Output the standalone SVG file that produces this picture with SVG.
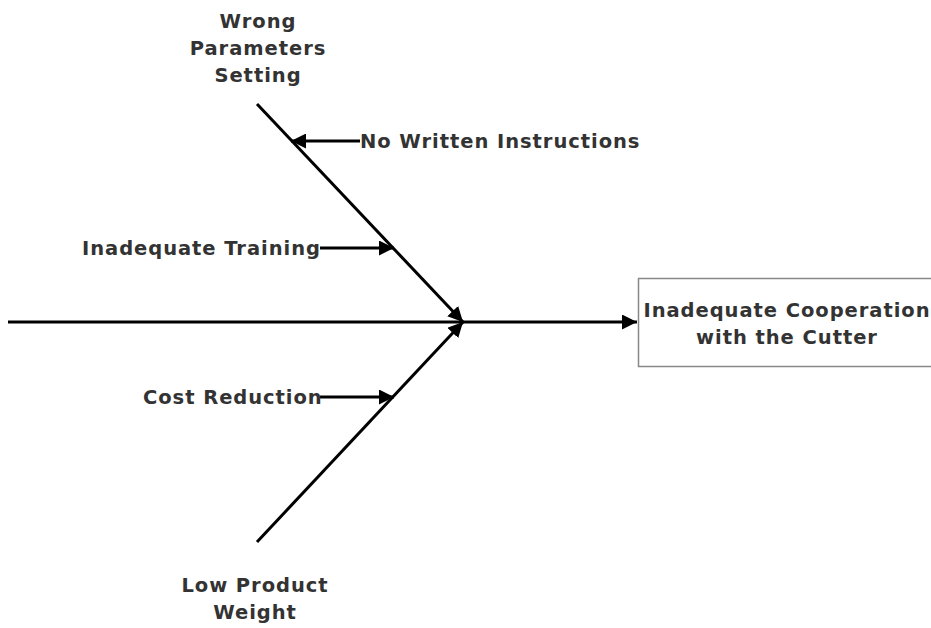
<svg xmlns="http://www.w3.org/2000/svg" width="931" height="628" viewBox="0 0 931 628">
  <defs>
    <marker id="arrow" viewBox="0 0 10 10" refX="10" refY="5" markerWidth="5" markerHeight="5" orient="auto" markerUnits="strokeWidth">
      <path d="M0,0 L10,5 L0,10 Z" fill="#000"/>
    </marker>
    <style>
      .bone { stroke: #000; stroke-width: 3; fill: none; }
      .lbl { font-family: "DejaVu Sans", Verdana, sans-serif; font-weight: bold; font-size: 19.5px; fill: #333; letter-spacing: 0.95px; }
      .mid { text-anchor: middle; }
      .box { fill: #fff; stroke: #888; stroke-width: 1.5; }
    </style>
  </defs>

  <rect width="931" height="628" fill="#fff"/>

  <g id="connectors">
    <line class="bone" x1="8" y1="322" x2="637" y2="322" marker-end="url(#arrow)"/>
    <line class="bone" x1="257" y1="104" x2="463" y2="322" marker-end="url(#arrow)"/>
    <line class="bone" x1="257" y1="542" x2="463" y2="322" marker-end="url(#arrow)"/>
    <line class="bone" x1="360" y1="141" x2="291" y2="141" marker-end="url(#arrow)"/>
    <line class="bone" x1="320" y1="248" x2="394" y2="248" marker-end="url(#arrow)"/>
    <line class="bone" x1="320" y1="397" x2="394" y2="397" marker-end="url(#arrow)"/>
  </g>

  <g id="effect">
    <rect class="box" x="638.5" y="278.5" width="300" height="88"/>
    <text class="lbl mid" x="787" y="317">Inadequate Cooperation</text>
    <text class="lbl mid" x="787" y="344">with the Cutter</text>
  </g>

  <g id="wrong-parameters">
    <text class="lbl mid" x="258" y="28">Wrong</text>
    <text class="lbl mid" x="258" y="55">Parameters</text>
    <text class="lbl mid" x="258" y="82">Setting</text>
  </g>

  <g id="no-written-instructions">
    <text class="lbl" x="360" y="148">No Written Instructions</text>
  </g>

  <g id="inadequate-training">
    <text class="lbl" x="82" y="255">Inadequate Training</text>
  </g>

  <g id="cost-reduction">
    <text class="lbl" x="143" y="404">Cost Reduction</text>
  </g>

  <g id="low-product-weight">
    <text class="lbl mid" x="255" y="592">Low Product</text>
    <text class="lbl mid" x="255" y="619">Weight</text>
  </g>
</svg>
